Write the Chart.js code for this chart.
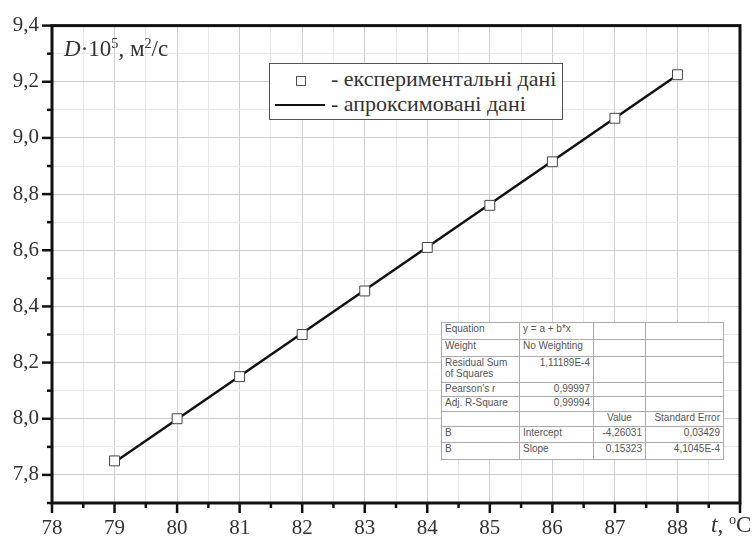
<!DOCTYPE html>
<html>
<head>
<meta charset="utf-8">
<script src="https://cdn.jsdelivr.net/npm/chart.js@4/dist/chart.umd.min.js"></script>
<style>
  body { margin: 0; background: #fff; }
  #wrap { position: relative; width: 753px; height: 542px; }
  #plot { position: absolute; left: 0; top: 0; }
  .serif { font-family: "Liberation Serif", "Times New Roman", serif; color: #333; position: absolute; white-space: nowrap; }
  #ylabel { left: 64px; top: 36px; font-size: 23px; }
  #xlabel { left: 711px; top: 512px; font-size: 23px; }
  sup { font-size: 62%; vertical-align: 0.55em; line-height: 0; }
  #legend { left: 269px; top: 63px; width: 292px; height: 55px; border: 1px solid #555; background: #fff; font-size: 22px; }
  #legend .row { position: absolute; left: 61px; }
  #legend .mark { position: absolute; left: 26px; top: 12px; width: 8px; height: 8px; border: 1px solid #555; }
  #legend .line { position: absolute; left: 5px; top: 40px; width: 50px; height: 0; border-top: 2px solid #111; }
  #fit { position: absolute; left: 441px; top: 322px; border-collapse: collapse; background: #fff;
         font-family: "Liberation Sans", Arial, sans-serif; font-size: 10px; color: #555; border: 1px solid #777; }
  #fit td { border: 1px solid #aaa; padding: 0 3px; line-height: 11px; vertical-align: top; }
  #fit td.r { text-align: right; }
</style>
</head>
<body>
<div id="wrap">
  <canvas id="plot" width="753" height="542"></canvas>
  <div id="ylabel" class="serif"><i>D</i>·10<sup>5</sup>, м<sup>2</sup>/с</div>
  <div id="xlabel" class="serif"><i>t</i>, <sup>o</sup>C</div>
  <div id="legend" class="serif">
    <div class="mark"></div>
    <div class="row" style="top:2px">- експериментальні дані</div>
    <div class="line"></div>
    <div class="row" style="top:27px">- апроксимовані дані</div>
  </div>
  <table id="fit"></table>
</div>
<script>
// експериментальні точки
const tempC = [79, 80, 81, 82, 83, 84, 85, 86, 87, 88];
const diffusion = [7.85, 8.00, 8.15, 8.30, 8.455, 8.61, 8.76, 8.915, 9.07, 9.225];

// лінійна апроксимація (кінці відрізка)
const fitT = [79, 88];
const fitD = [7.845, 9.224];

const xRange = [78, 89];
const yRange = [7.7, 9.4];

// таблиця параметрів апроксимації
const fitRows = [
  ['Equation', 'y = a + b*x', '', ''],
  ['Weight', 'No Weighting', '', ''],
  ['Residual Sum<br>of Squares', '1,11189E-4', '', ''],
  ["Pearson's r", '0,99997', '', ''],
  ['Adj. R-Square', '0,99994', '', ''],
  ['', '', 'Value', 'Standard Error'],
  ['B', 'Intercept', '-4,26031', '0,03429'],
  ['B', 'Slope', '0,15323', '4,1045E-4']
];
const rowHeights = [17, 17, 26, 14, 15, 15, 16, 17];
const colWidths = [78, 74, 52, 78];

const table = document.getElementById('fit');
fitRows.forEach((row, i) => {
  const tr = document.createElement('tr');
  tr.style.height = rowHeights[i] + 'px';
  row.forEach((cell, j) => {
    const td = document.createElement('td');
    td.innerHTML = cell;
    td.style.width = (colWidths[j] - 7) + 'px';
    const numeric = /^-?[0-9]/.test(cell);
    if (numeric || (i === 5 && j === 3)) td.className = 'r';
    if (i === 5 && j === 2) td.style.textAlign = 'center';
    tr.appendChild(td);
  });
  table.appendChild(tr);
});

const isMajorX = v => Math.abs(v - Math.round(v)) < 1e-6;
const isMajorY = v => Math.round(v * 10) % 2 === 0;

// рамка та зовнішні засічки
const frame = {
  id: 'frame',
  afterDraw(chart) {
    const { ctx, chartArea: a, scales } = chart;
    ctx.save();
    ctx.strokeStyle = '#111';
    ctx.lineWidth = 2.5;
    scales.x.ticks.forEach(t => {
      const px = scales.x.getPixelForValue(t.value);
      const len = isMajorX(t.value) ? 10 : 5;
      ctx.beginPath(); ctx.moveTo(px, a.bottom); ctx.lineTo(px, a.bottom + len); ctx.stroke();
    });
    scales.y.ticks.forEach(t => {
      const py = scales.y.getPixelForValue(t.value);
      const len = isMajorY(t.value) ? 10 : 5;
      ctx.beginPath(); ctx.moveTo(a.left, py); ctx.lineTo(a.left - len, py); ctx.stroke();
    });
    ctx.lineWidth = 3;
    ctx.strokeRect(a.left, a.top, a.right - a.left, a.bottom - a.top);
    ctx.restore();
  }
};

const tickFont = { family: '"Liberation Serif", "Times New Roman", serif', size: 21 };

new Chart(document.getElementById('plot'), {
  type: 'scatter',
  data: {
    datasets: [
      {
        label: 'експериментальні дані',
        data: tempC.map((t, i) => ({ x: t, y: diffusion[i] })),
        pointStyle: 'rect',
        pointRadius: 7,
        borderColor: '#444',
        borderWidth: 1,
        backgroundColor: '#fff',
        showLine: false
      },
      {
        label: 'апроксимовані дані',
        data: fitT.map((t, i) => ({ x: t, y: fitD[i] })),
        showLine: true,
        borderColor: '#111',
        borderWidth: 2.5,
        pointRadius: 0
      }
    ]
  },
  options: {
    responsive: false,
    animation: false,
    layout: { padding: { top: 19, right: 10, left: 0, bottom: 0 } },
    plugins: { legend: { display: false }, tooltip: { enabled: false } },
    scales: {
      x: {
        type: 'linear', min: xRange[0], max: xRange[1],
        afterFit: s => { s.height = 39; },
        border: { display: false },
        grid: { drawTicks: false, color: c => isMajorX(c.tick.value) ? '#cfcfcf' : '#e8e8e8' },
        ticks: {
          stepSize: 0.5, autoSkip: false, maxRotation: 0, padding: 13,
          color: '#333', font: tickFont,
          callback: v => (isMajorX(v) && v < xRange[1]) ? String(Math.round(v)) : ''
        }
      },
      y: {
        min: yRange[0], max: yRange[1],
        afterFit: s => { s.width = 52; },
        border: { display: false },
        grid: { drawTicks: false, color: c => isMajorY(c.tick.value) ? '#cfcfcf' : '#e8e8e8' },
        ticks: {
          stepSize: 0.1, autoSkip: false, padding: 13,
          color: '#333', font: tickFont,
          callback: v => (isMajorY(v) && v > yRange[0] + 0.05) ? v.toFixed(1).replace('.', ',') : ''
        }
      }
    }
  },
  plugins: [frame]
});
</script>
</body>
</html>
